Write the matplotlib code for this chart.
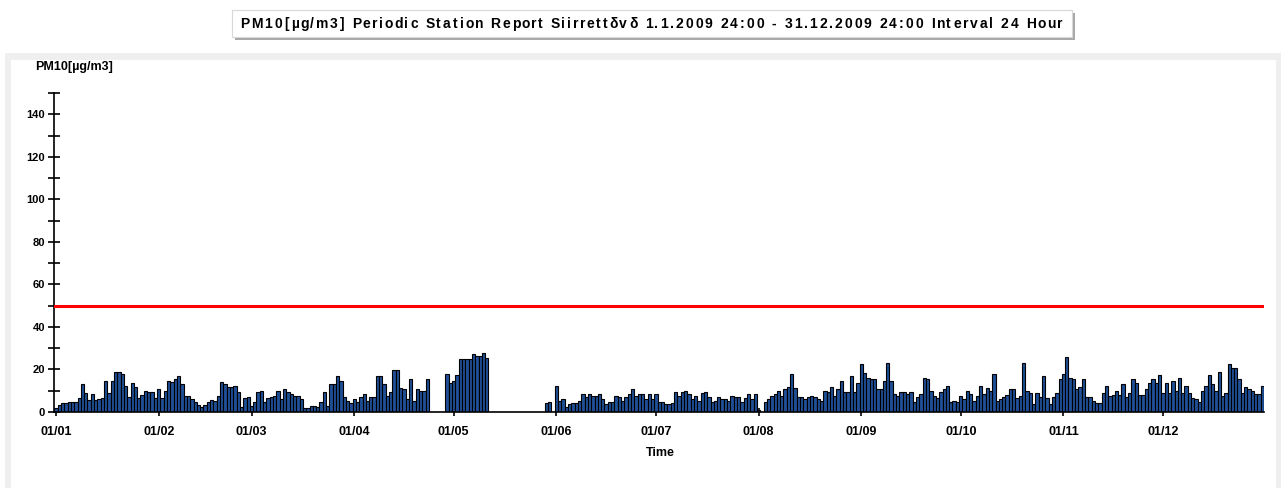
import numpy as np
import matplotlib
matplotlib.use("Agg")
import matplotlib.pyplot as plt
from matplotlib.patches import Rectangle
from matplotlib.ticker import MultipleLocator
from matplotlib.font_manager import FontProperties, findfont
from matplotlib.ft2font import FT2Font

nan = np.nan

# daily PM10 means [ug/m3], one value per day of 2009, nan = missing
jan = [2, 3, 4, 4, 4.6, 4.6, 4.6, 6.3, 13, 9, 5.4, 8.2, 5.4, 5.8, 6.3, 14.6,
       8.7, 14.6, 18.6, 18.6, 17.6, 12.3, 6.8, 13.7, 11.5, 6.3, 7.9, 9.9, 9.2, 9.2, 6.3]
feb = [10.6, 6.3, 9.9, 14.6, 13.9, 15.3, 17, 12.9, 7.6, 7.6, 6, 4.5, 3.2, 2.4,
       3.2, 4.6, 5.4, 4.9, 7.6, 13.9, 13, 11.8, 11.8, 12.3, 9.2, 2.4, 6.3, 6.8]
mar = [2.7, 4.5, 9.2, 9.9, 4.5, 6.3, 6.8, 7.6, 9.9, 6, 10.6, 9.2, 8.2, 7.6, 7.6,
       6, 2, 2, 2.9, 2.9, 2.4, 4.5, 9.2, 2.9, 13, 13, 17, 14.5, 6.8, 5.2, 4]
apr = [6, 4.5, 6.8, 8.4, 5.2, 6.8, 6.8, 17, 17, 13, 7.6, 9.2, 19.7, 19.7, 11.4,
       10.6, 6, 15.3, 5.2, 10.6, 9.9, 9.9, 15.3, nan, nan, nan, nan, nan, 17.6, 13.7]
may = [14.6, 17.3, 24.7, 24.7, 24.7, 24.7, 27, 26.4, 26.4, 27.5, 25.2] + [nan] * 17 + [4, 4.5, nan]
jun = [12.3, 5.2, 6, 2.4, 3.5, 4, 4, 5.2, 8.2, 6.8, 8.2, 7.6, 7.6, 8.2, 6, 3.7,
       4.5, 4.5, 7.6, 6.8, 5.2, 6.8, 8.2, 10.6, 7.6, 8.2, 8.2, 6, 8.2, 6]
jul = [8.2, 4.5, 4.5, 3.7, 3.7, 4, 9.2, 7.6, 9.2, 9.9, 8.4, 6, 7.6, 5.2, 8.7, 9.2,
       6.8, 4.5, 5.2, 6.8, 6, 6, 5.2, 7.6, 6.8, 6.8, 4.8, 6.3, 8.2, 6, 8.2]
aug = [0.8, nan, 4.5, 6, 7.6, 8.2, 9.9, 7.6, 10.7, 11.5, 17.6, 11.4, 6.8, 6.8, 6,
       6.8, 7.6, 6.8, 6, 5.2, 9.9, 9.2, 11.5, 7.6, 10.6, 14.6, 9.2, 9.2, 17, 9.2, 13.7]
sep = [22.4, 18.4, 16.1, 15.4, 15.3, 10.6, 10.6, 14.6, 23.1, 14.6, 8.2, 7.6, 9.2,
       9.2, 8.2, 9.2, 4.5, 6.8, 8.4, 16.1, 15.3, 9.9, 7.6, 6.3, 9.2, 10.6, 12.3, 4.5, 5.2, 4.5]
oct_ = [7.6, 6, 9.9, 8.4, 5.2, 7.6, 12.3, 8.2, 11.4, 9.9, 17.6, 5.2, 6, 7.1, 7.9,
        10.6, 10.6, 6.3, 7.6, 23.1, 9.8, 9, 3.7, 9, 6.8, 17, 6.3, 3.7, 6.8, 9, 15.2]
nov = [17.6, 25.9, 15.8, 15.3, 10.6, 11.5, 15.3, 6.8, 6.8, 5.2, 4, 4, 9, 12.1, 7.4,
       7.9, 9.8, 7.9, 12.9, 6.8, 9, 15.3, 13.7, 7.9, 7.9, 10.6, 13.7, 15.3, 13.7, 17.3]
dec = [9, 13.7, 9, 14.5, 9.8, 16.1, 9, 12.1, 9, 6.3, 6, 4.5, 9.8, 12.1, 17.3, 12.9,
       9.8, 18.9, 7.4, 9, 22.4, 20.8, 20.4, 15.3, 9, 11.5, 10.6, 9.8, 8.2, 8.2, 12.1]

pm10 = np.array(jan + feb + mar + apr + may + jun + jul + aug + sep + oct_ + nov + dec, dtype=float)
days = np.arange(len(pm10))

month_start = [0, 31, 59, 90, 120, 151, 181, 212, 243, 273, 304, 334]
month_labels = ["01/01", "01/02", "01/03", "01/04", "01/05", "01/06",
                "01/07", "01/08", "01/09", "01/10", "01/11", "01/12"]
limit_value = 50

title = ("PM10[\u00b5g/m3] Periodic Station Report Siirrett\u03b4v\u03b4 "
         "1.1.2009 24:00 - 31.12.2009 24:00 Interval 24 Hour")

plt.rcParams["font.family"] = ["Liberation Sans", "DejaVu Sans"]

W, H = 1282, 488
DPI = 100
fig = plt.figure(figsize=(W / DPI, H / DPI), dpi=DPI)


def fx(px):
    return px / W


def fy(py):
    return 1 - py / H


def rect(x0, y0, x1, y1, **kw):
    fig.patches.append(Rectangle((fx(x0), fy(y1)), fx(x1) - fx(x0), fy(y0) - fy(y1),
                                 transform=fig.transFigure, **kw))


def spaced_text(s, x0, x1, y, size):
    # letter by letter, advances rounded like GDI, stretched to fill x0..x1
    fp = FontProperties(family="Liberation Sans", weight="bold", size=size)
    font = FT2Font(findfont(fp))
    font.set_size(size, DPI)
    adv = [round(font.load_char(ord(ch)).linearHoriAdvance / 65536) + 1 for ch in s]
    extra = (x1 - x0 - sum(adv)) / (len(s) - 1)
    x = x0
    for ch, a in zip(s, adv):
        if ch != " ":
            fig.text(fx(x), fy(y), ch, ha="left", va="center", fontsize=size,
                     fontweight="bold", zorder=3)
        x += a + extra


# outer grey panel + white plot area
rect(5, 53, 1281, 488, facecolor="#efefef", edgecolor="none", zorder=-10)
rect(11, 60, 1276, 488, facecolor="white", edgecolor="none", zorder=-9)

# title box with shadow
rect(235, 13, 1075, 40, facecolor="#a8a8a8", edgecolor="none", zorder=1)
rect(232, 10, 1072, 37, facecolor="white", edgecolor="#d8d8d8", linewidth=0.8, zorder=2)
spaced_text(title, 240, 1063, 24, 10)

ax = fig.add_axes([fx(54), fy(411.8), fx(1264) - fx(54), (411.8 - 93) / H])
ax.set_facecolor("none")

ok = ~np.isnan(pm10)
ax.bar(days[ok], pm10[ok], width=1.0, color="#1f4f96", edgecolor="black",
       linewidth=0.8, zorder=2)
ax.axhline(limit_value, color="red", linewidth=2.2, zorder=3)

ax.set_xlim(-0.6, 364.5)
ax.set_ylim(0, 150)
ax.yaxis.set_major_locator(MultipleLocator(20))
ax.yaxis.set_minor_locator(MultipleLocator(10))
ax.set_yticks(np.arange(0, 141, 20))
ax.set_xticks(month_start)
ax.set_xticklabels(month_labels)

for s in ["top", "right"]:
    ax.spines[s].set_visible(False)
for s in ["left", "bottom"]:
    ax.spines[s].set_linewidth(1.2)
    ax.spines[s].set_color("black")

ax.tick_params(axis="y", which="both", direction="inout", length=8, width=1.2,
               labelsize=8, pad=2.5)
ax.tick_params(axis="x", which="major", direction="inout", length=6, width=1.2,
               labelsize=9, pad=7)
for lab in ax.get_xticklabels() + ax.get_yticklabels():
    lab.set_fontweight("bold")

fig.text(fx(74), fy(67), "PM10[\u00b5g/m3]", ha="center", va="center",
         fontsize=9, fontweight="bold")
fig.text(fx(660), fy(453), "Time", ha="center", va="center",
         fontsize=9, fontweight="bold")

fig.savefig("out.png", dpi=DPI)
